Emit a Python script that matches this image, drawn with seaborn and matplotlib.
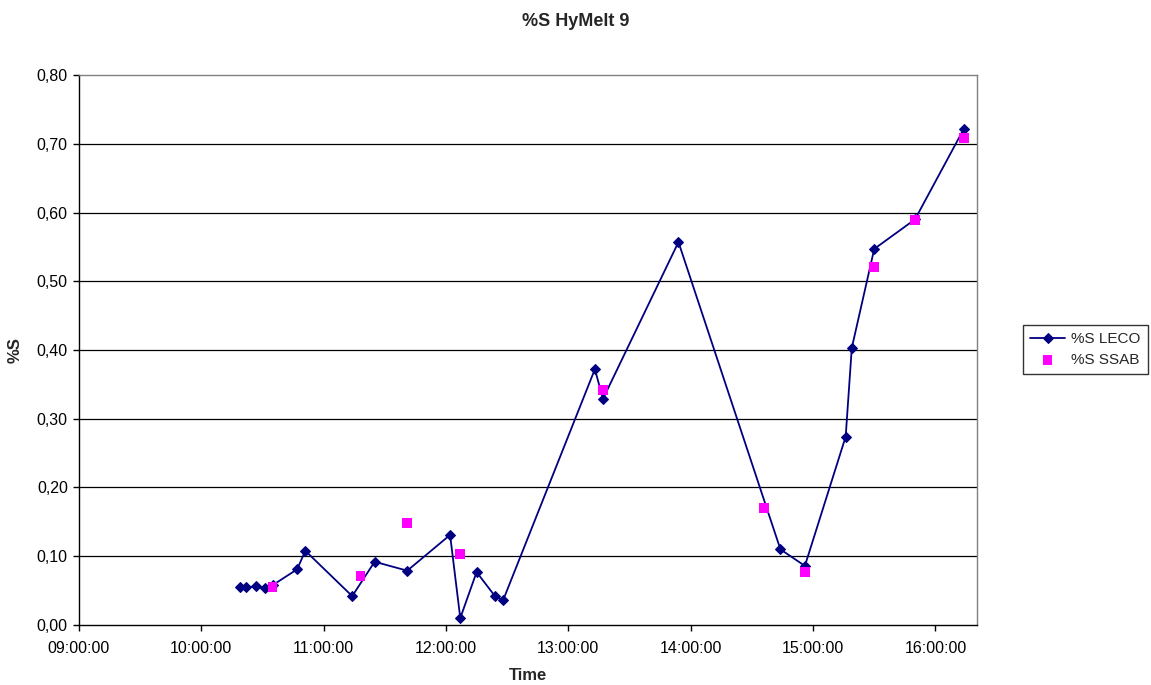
import matplotlib
matplotlib.use("Agg")
import matplotlib.pyplot as plt
import matplotlib.dates as mdates
from matplotlib.ticker import FuncFormatter
import pandas as pd
import seaborn as sns

# Sulphur content measured by LECO analyser (time of sample, %S)
leco_times = ["10:19", "10:22", "10:27", "10:31", "10:35", "10:47", "10:51",
              "11:14", "11:25", "11:41", "12:02", "12:07", "12:15", "12:24",
              "12:28", "13:13", "13:17", "13:54", "14:44", "14:56", "15:16",
              "15:19", "15:30", "15:50", "16:14"]
leco_values = [0.055, 0.055, 0.056, 0.054, 0.058, 0.081, 0.108,
               0.042, 0.092, 0.079, 0.131, 0.010, 0.077, 0.042,
               0.036, 0.372, 0.329, 0.557, 0.110, 0.086, 0.274,
               0.403, 0.547, 0.590, 0.722]

# Sulphur content reported by SSAB lab
ssab_times = ["10:35", "11:18", "11:41", "12:07", "13:17", "14:36",
              "14:56", "15:30", "15:50", "16:14"]
ssab_values = [0.055, 0.071, 0.148, 0.103, 0.342, 0.170,
               0.077, 0.521, 0.589, 0.708]

y_ticks = [0.0, 0.1, 0.2, 0.3, 0.4, 0.5, 0.6, 0.7, 0.8]

day = "2008-01-01 "
leco = pd.DataFrame({"Time": pd.to_datetime([day + t for t in leco_times]),
                     "%S": leco_values})
ssab = pd.DataFrame({"Time": pd.to_datetime([day + t for t in ssab_times]),
                     "%S": ssab_values})

sns.set_theme(style="white")
plt.rcParams["font.family"] = ["Liberation Sans", "DejaVu Sans"]

fig = plt.figure(figsize=(11.51, 6.85), dpi=100)
ax = fig.add_axes([0.0686, 0.0876, 0.7804, 0.8029])

for y in y_ticks[1:-1]:
    ax.axhline(y, color="black", lw=0.9, zorder=0)

sns.lineplot(data=leco, x="Time", y="%S", ax=ax, sort=False,
             color="#000080", lw=1.3, marker="D", markersize=5.5,
             markeredgecolor="#000080", label="%S LECO", legend=False)
sns.scatterplot(data=ssab, x="Time", y="%S", ax=ax, color="#FF00FF",
                marker="s", s=48, edgecolor="none", label="%S SSAB",
                legend=False, zorder=3)

ax.set_xlim(pd.Timestamp(day + "09:00"), pd.Timestamp(day + "16:20:30"))
ax.set_ylim(0, 0.8)
ax.set_yticks(y_ticks)
ax.yaxis.set_major_formatter(FuncFormatter(lambda v, p: f"{v:.2f}".replace(".", ",")))
ax.xaxis.set_major_locator(mdates.HourLocator())
ax.xaxis.set_major_formatter(mdates.DateFormatter("%H:%M:%S"))

ax.tick_params(axis="both", direction="out", length=4, width=1,
               color="black", labelsize=11.5, labelcolor="black",
               bottom=True, left=True)
ax.tick_params(axis="x", pad=7.5)
ax.tick_params(axis="y", pad=4)
for side in ("left", "bottom"):
    ax.spines[side].set_color("black")
    ax.spines[side].set_linewidth(1.0)
for side in ("top", "right"):
    ax.spines[side].set_color("#808080")
    ax.spines[side].set_linewidth(1.0)

ax.set_xlabel("Time", fontsize=12, fontweight="bold", labelpad=9)
ax.set_ylabel("%S", fontsize=12, fontweight="bold", labelpad=10)
fig.text(0.5, 0.969, "%S HyMelt 9", ha="center", va="center",
         fontsize=13, fontweight="bold")

handles, labels = ax.get_legend_handles_labels()
leg = fig.legend(handles, labels, loc="center left",
                 bbox_to_anchor=(0.889, 0.49), frameon=True, fancybox=False,
                 edgecolor="black", fontsize=11, borderpad=0.45,
                 handlelength=2.3, handletextpad=0.4, labelspacing=0.45,
                 borderaxespad=0)
leg.get_frame().set_linewidth(1.0)

fig.savefig("out.png", dpi=100)
